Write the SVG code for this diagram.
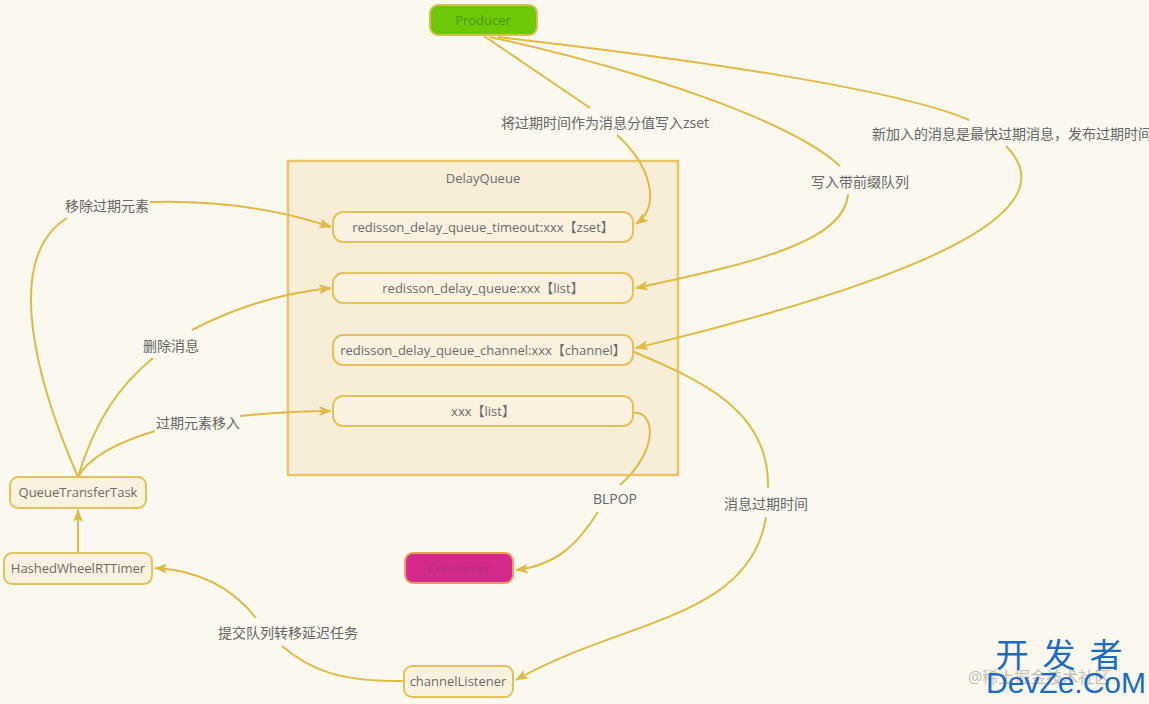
<svg xmlns="http://www.w3.org/2000/svg" width="1149" height="704" viewBox="0 0 1149 704">
<style>
text{font-family:"Open Sans","Noto Sans CJK SC",sans-serif;font-size:13px;fill:#6b6b6b;text-anchor:middle;dominant-baseline:central}
.node{fill:#faf2df;stroke:#e3c25c;stroke-width:2}
.edge{fill:none;stroke:#dfbb45;stroke-width:2}
.lbl{font-size:14px;fill:#666}
</style>
<defs>
<marker id="arr" markerUnits="userSpaceOnUse" markerWidth="14" markerHeight="12" refX="12" refY="5" orient="auto">
<path d="M0,0 L13,5 L0,10 L3,5 z" fill="#dfbb45"/>
</marker>
</defs>
<rect width="1149" height="704" fill="#fbf8f0"/>

<g id="delayqueue">
<rect x="288" y="161" width="390" height="314" fill="#f8eed7" stroke="#e8c668" stroke-width="2.5"/>
<text x="483" y="178">DelayQueue</text>
</g>

<g id="connectors">
<!-- Producer -> zset -->
<path class="edge" d="M484,36 L590,108"/>
<path class="edge" d="M617,135 C650,165 662,205 636,224" marker-end="url(#arr)"/>
<text class="lbl" x="605" y="122">将过期时间作为消息分值写入zset</text>
<!-- Producer -> list -->
<path class="edge" d="M490,37 C640,70 790,120 840,166"/>
<path class="edge" d="M848,194 C845,240 760,262 636,288" marker-end="url(#arr)"/>
<text class="lbl" x="860" y="181">写入带前缀队列</text>
<!-- Producer -> channel -->
<path class="edge" d="M498,37 C700,60 900,90 969,120"/>
<path class="edge" d="M1006,146 C1060,200 980,265 636,348" marker-end="url(#arr)"/>
<text class="lbl" x="872" y="133" style="text-anchor:start">新加入的消息是最快过期消息，发布过期时间</text>
<!-- channel -> channelListener -->
<path class="edge" d="M634,352 C700,380 770,410 768,488"/>
<path class="edge" d="M766,517 C750,620 620,620 516,680" marker-end="url(#arr)"/>
<text class="lbl" x="766" y="503">消息过期时间</text>
<!-- xxx list -> Consumer -->
<path class="edge" d="M633,413 C655,410 660,450 620,485"/>
<path class="edge" d="M598,512 C580,540 560,565 516,570" marker-end="url(#arr)"/>
<text class="lbl" x="615" y="498">BLPOP</text>
<!-- channelListener -> HashedWheelRTTimer -->
<path class="edge" d="M404,681 C340,682 310,670 282,646"/>
<path class="edge" d="M256,618 C230,585 195,570 155,568" marker-end="url(#arr)"/>
<text class="lbl" x="288" y="632">提交队列转移延迟任务</text>
<!-- HashedWheelRTTimer -> QueueTransferTask -->
<path class="edge" d="M78,552 L78,510" marker-end="url(#arr)"/>
<!-- QueueTransferTask -> zset -->
<path class="edge" d="M78,477 C40,390 0,260 67,218"/>
<path class="edge" d="M150,202 C220,200 280,210 331,227" marker-end="url(#arr)"/>
<text class="lbl" x="107" y="205">移除过期元素</text>
<!-- QueueTransferTask -> list -->
<path class="edge" d="M78,477 C95,420 120,385 153,358"/>
<path class="edge" d="M192,330 C240,305 290,292 331,288" marker-end="url(#arr)"/>
<text class="lbl" x="171" y="345">删除消息</text>
<!-- QueueTransferTask -> xxx list -->
<path class="edge" d="M78,477 C90,455 125,440 155,431"/>
<path class="edge" d="M240,416 C280,412 300,411 331,411" marker-end="url(#arr)"/>
<text class="lbl" x="198" y="422">过期元素移入</text>
</g>

<g id="producer">
<rect x="430" y="5" width="107" height="30" rx="8" fill="#6fc70a" stroke="#d8c050" stroke-width="2"/>
<text x="483" y="20" style="fill:#4a9a10">Producer</text>
</g>
<g id="zset">
<rect class="node" x="333" y="212" width="300" height="30" rx="10"/>
<text x="483" y="227">redisson_delay_queue_timeout:xxx【zset】</text>
</g>
<g id="list">
<rect class="node" x="333" y="273" width="300" height="30" rx="10"/>
<text x="483" y="288">redisson_delay_queue:xxx【list】</text>
</g>
<g id="channel">
<rect class="node" x="333" y="335" width="300" height="30" rx="10"/>
<text x="483" y="350">redisson_delay_queue_channel:xxx【channel】</text>
</g>
<g id="xxxlist">
<rect class="node" x="333" y="396" width="300" height="30" rx="10"/>
<text x="483" y="411">xxx【list】</text>
</g>
<g id="queuetransfertask">
<rect class="node" x="10" y="477" width="136" height="31" rx="8"/>
<text x="78" y="492">QueueTransferTask</text>
</g>
<g id="hashedwheel">
<rect class="node" x="4" y="553" width="148" height="31" rx="8"/>
<text x="78" y="568">HashedWheelRTTimer</text>
</g>
<g id="consumer">
<rect x="405" y="553" width="108" height="30" rx="8" fill="#d42a8c" stroke="#e8a060" stroke-width="2"/>
<text x="459" y="568" style="fill:#b0307a">Consumer</text>
</g>
<g id="channellistener">
<rect class="node" x="404" y="666" width="109" height="31" rx="8"/>
<text x="458" y="681">channelListener</text>
</g>

<g id="watermark">
<text x="968" y="677" style="font-size:16px;fill:#c4beb6;text-anchor:start">@稀土掘金技术社区</text>
<text x="1066" y="654" style="font-size:33px;fill:#1a6cc0;letter-spacing:14px">开发者</text>
<text x="1066" y="682" style="font-size:30px;fill:#1a6cc0;font-family:'Liberation Sans',sans-serif">DevZe.CoM</text>
</g>
</svg>
